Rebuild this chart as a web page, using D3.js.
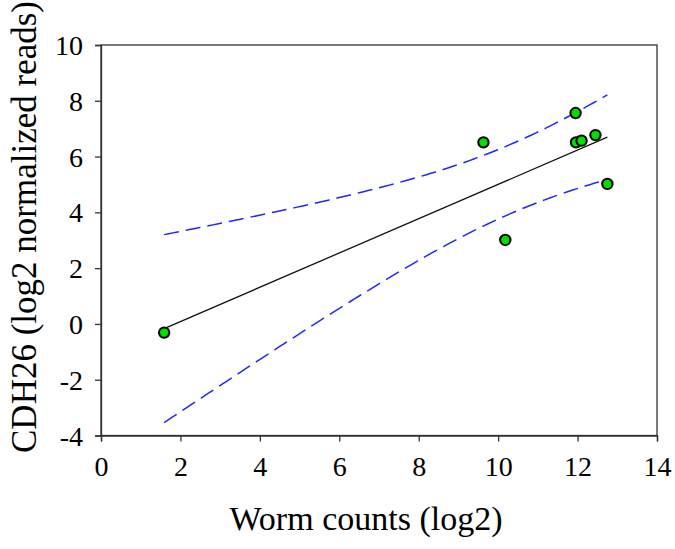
<!DOCTYPE html>
<html>
<head>
<meta charset="utf-8">
<script src="https://cdn.jsdelivr.net/npm/d3@7"></script>
<style>
html,body{margin:0;padding:0;background:#fff;}
svg{display:block;}
svg text{font-family:"Liberation Serif","Times New Roman",serif !important;}
</style>
</head>
<body>
<svg id="chart" width="675" height="549"></svg>
<script>
// Data
const wormCounts = [1.59, 9.63, 10.18, 11.95, 11.96, 12.10, 12.45, 12.75];
const cdh26 = [-0.31, 6.51, 3.01, 7.56, 6.51, 6.57, 6.77, 5.02];
const xTicks = [0, 2, 4, 6, 8, 10, 12, 14];
const yTicks = [-4, -2, 0, 2, 4, 6, 8, 10];
const xLabel = "Worm counts (log2)";
const yLabel = "CDH26 (log2 normalized reads)";
const tCrit = 2.447; // 95% two-sided, df = n - 2 = 6

const svg = d3.select("#chart");
const L = 101, R = 657, T = 45, B = 435.5;
const x = d3.scaleLinear().domain([0, 14]).range([L, R]);
const y = d3.scaleLinear().domain([-4, 10]).range([B, T]);

// Linear regression and 95% confidence band
const n = wormCounts.length;
const mx = d3.mean(wormCounts), my = d3.mean(cdh26);
let sxx = 0, sxy = 0;
for (let i = 0; i < n; i++) {
  sxx += (wormCounts[i] - mx) ** 2;
  sxy += (wormCounts[i] - mx) * (cdh26[i] - my);
}
const slope = sxy / sxx, intercept = my - slope * mx;
let sse = 0;
for (let i = 0; i < n; i++) sse += (cdh26[i] - (intercept + slope * wormCounts[i])) ** 2;
const s = Math.sqrt(sse / (n - 2));
const [xmin, xmax] = d3.extent(wormCounts);
const samples = d3.range(0, 101).map(k => xmin + (xmax - xmin) * k / 100);
const fit = v => intercept + slope * v;
const hw = v => tCrit * s * Math.sqrt(1 / n + (v - mx) ** 2 / sxx);

const line = d3.line().x(d => x(d[0])).y(d => y(d[1]));

// Frame
svg.append("rect").attr("x", L).attr("y", T).attr("width", R - L).attr("height", B - T)
  .attr("fill", "none").attr("stroke", "#333").attr("stroke-width", 1.3);

// Axes
const fmt = d => String(d);
const xAxis = svg.append("g").attr("transform", `translate(0,${B})`)
  .call(d3.axisBottom(x).tickValues(xTicks).tickSize(6).tickPadding(10).tickFormat(fmt));
const yAxis = svg.append("g").attr("transform", `translate(${L},0)`)
  .call(d3.axisLeft(y).tickValues(yTicks).tickSize(6).tickPadding(12).tickFormat(fmt));
[xAxis, yAxis].forEach(g => {
  g.attr("font-family", null).attr("font-size", null);
  g.select(".domain").attr("stroke", "#333").attr("stroke-width", 1.3);
  g.selectAll(".tick line").attr("stroke", "#333").attr("stroke-width", 1.3);
  g.selectAll(".tick text").attr("fill", "#000").style("font-size", "28px");
});
xAxis.selectAll(".tick text").attr("dy", "0.88em");
yAxis.selectAll(".tick text").attr("dy", "0.34em");

// Confidence bands
svg.append("path").datum(samples.map(v => [v, fit(v) + hw(v)])).attr("d", line)
  .attr("fill", "none").attr("stroke", "#2424ff").attr("stroke-width", 1.5).attr("stroke-dasharray", "15,7");
svg.append("path").datum(samples.map(v => [v, fit(v) - hw(v)])).attr("d", line)
  .attr("fill", "none").attr("stroke", "#2424ff").attr("stroke-width", 1.5).attr("stroke-dasharray", "15,7");

// Regression line
svg.append("path").datum([[xmin, fit(xmin)], [xmax, fit(xmax)]]).attr("d", line)
  .attr("fill", "none").attr("stroke", "#111").attr("stroke-width", 1.3);

// Points
svg.append("g").selectAll("circle").data(wormCounts.map((v, i) => [v, cdh26[i]])).join("circle")
  .attr("cx", d => x(d[0])).attr("cy", d => y(d[1])).attr("r", 5.2)
  .attr("fill", "#00e000").attr("stroke", "#000").attr("stroke-width", 2);

// Axis labels
svg.append("text").attr("x", 366).attr("y", 530).attr("text-anchor", "middle")
  .style("font-size", "34px").attr("fill", "#000").text(xLabel);
svg.append("text").attr("transform", "translate(36,227) rotate(-90)").attr("text-anchor", "middle")
  .style("font-size", "35px").attr("fill", "#000").text(yLabel);
</script>
</body>
</html>
